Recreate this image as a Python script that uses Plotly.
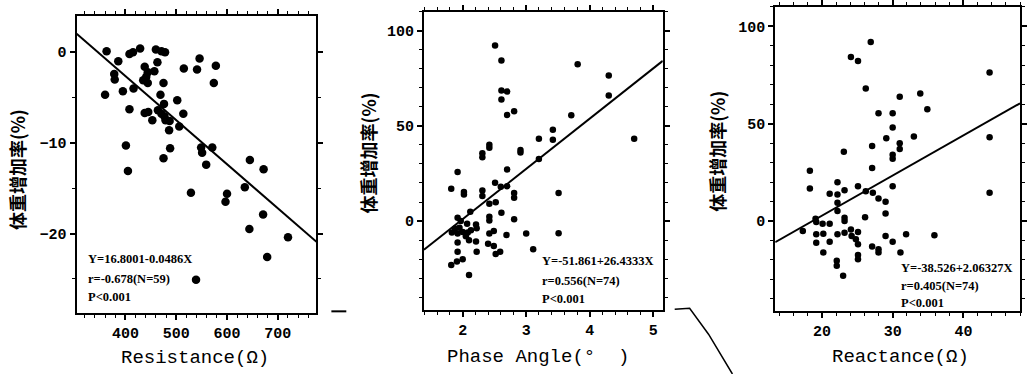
import plotly.graph_objects as go

# ---------------- data ----------------
res_x = [363, 386, 378, 379, 360, 395, 408, 415, 429, 460, 471, 478, 463, 438, 444,
         457, 441, 435, 444, 475, 515, 541, 546, 578, 574, 416, 469, 476, 502, 408,
         438, 445, 453, 464, 471, 477, 479, 487, 514, 486, 506, 401, 488, 475, 405,
         549, 551, 571, 559, 645, 672, 635, 600, 597, 671, 644, 720, 679, 529, 539]
res_y = [0.1, -1.0, -2.4, -3.0, -4.7, -4.3, -0.2, 0.0, 0.4, 0.3, 0.1, 0.0, -1.1, -1.6, -2.2,
         -2.1, -2.7, -3.1, -3.4, -3.4, -1.8, -1.9, -0.7, -1.5, -3.4, -4.0, -4.7, -5.7, -5.3, -6.3,
         -6.7, -6.6, -7.5, -6.4, -6.8, -7.1, -7.5, -7.6, -6.8, -8.6, -8.2, -10.3, -10.6, -11.7, -13.1,
         -10.5, -11.1, -10.5, -12.4, -11.9, -12.9, -14.9, -15.6, -16.5, -17.9, -19.5, -20.4, -22.6, -15.5, -25.1]

pa_x = [2.51, 2.61, 2.61, 2.70, 2.61, 2.81, 2.70, 3.81, 4.30, 4.30, 3.71, 4.70, 3.42, 3.42, 3.20,
        3.20, 2.91, 2.91, 2.42, 2.42, 2.31, 2.31, 2.70, 1.92, 2.51, 2.70, 2.60, 1.82, 2.02, 2.02,
        2.31, 2.31, 2.81, 2.81, 3.51, 2.42, 2.52, 2.12, 1.92, 1.97, 2.42, 2.42, 2.61, 2.81, 2.07,
        2.21, 2.22, 1.83, 1.92, 2.00, 2.08, 2.13, 2.42, 2.49, 2.69, 3.00, 3.51, 1.92, 2.10, 2.21,
        2.40, 2.49, 2.22, 1.92, 2.52, 2.59, 3.11, 1.82, 1.91, 2.00, 2.10, 1.95, 2.05, 1.88]
pa_y = [92.3, 84.5, 68.7, 68.1, 64.0, 57.8, 55.8, 82.5, 76.5, 66.0, 55.7, 43.3, 48.0, 42.8, 43.3,
        32.6, 37.3, 36.0, 40.1, 38.5, 35.7, 33.5, 27.1, 25.8, 20.1, 18.3, 18.0, 17.0, 15.3, 14.0,
        16.0, 13.2, 14.8, 12.2, 14.8, 9.1, 9.9, 4.9, 1.7, 0.0, 2.3, 0.3, 4.3, 0.9, -1.4,
        -1.8, -3.8, -6.1, -6.6, -5.8, -6.1, -4.9, -6.6, -5.2, -7.3, -6.6, -6.5, -11.3, -10.1, -10.8,
        -11.9, -13.1, -16.2, -16.2, -17.4, -16.2, -14.8, -23.2, -21.3, -20.1, -28.4, -3.5, -8.0, -4.0]

xc_x = [26.9, 24.1, 25.1, 26.2, 31.0, 33.9, 34.9, 28.0, 30.0, 30.0, 33.0, 29.1, 31.0, 31.0, 30.0,
        30.0, 27.1, 27.1, 23.1, 43.7, 43.7, 43.7, 18.3, 18.3, 22.2, 21.1, 22.2, 23.2, 25.1, 26.2,
        27.2, 28.0, 29.0, 30.0, 29.0, 22.2, 22.2, 26.1, 23.2, 23.2, 19.1, 19.2, 20.1, 21.1, 17.3,
        19.2, 20.2, 22.2, 23.2, 24.1, 24.2, 25.1, 24.8, 21.1, 19.2, 20.2, 25.1, 27.1, 28.0, 28.0,
        29.0, 30.0, 31.1, 31.9, 25.1, 25.1, 22.1, 22.1, 23.0, 35.9]
xc_y = [92.0, 84.3, 82.3, 68.1, 63.9, 65.6, 57.4, 55.4, 55.4, 48.1, 43.5, 42.6, 40.0, 37.0, 34.1,
        32.0, 38.5, 27.3, 35.6, 76.3, 43.1, 14.5, 25.9, 16.7, 19.9, 14.0, 13.7, 15.8, 17.9, 15.3,
        14.5, 11.6, 9.9, 17.9, 3.9, 9.4, 5.1, 2.0, 1.7, 0.0, 1.2, -0.5, -1.4, -1.4, -5.1,
        -6.8, -6.5, -6.8, -6.0, -4.3, -7.7, -5.6, -9.4, -10.7, -11.1, -16.2, -11.9, -13.1, -14.5, -16.2,
        -7.7, -10.6, -16.2, -6.8, -17.4, -19.6, -20.4, -23.0, -28.1, -7.3]

# regression coefficients printed in the panels
fits = [(16.8001, -0.0486), (-51.861, 26.4333), (-38.526, 2.06327)]
stats = [["Y=16.8001-0.0486X", "r=-0.678(N=59)", "P<0.001"],
         ["Y=-51.861+26.4333X", "r=0.556(N=74)", "P<0.001"],
         ["Y=-38.526+2.06327X", "r=0.405(N=74)", "P<0.001"]]
x_titles = ["Resistance(Ω)", "Phase Angle(°  )", "Reactance(Ω)"]
y_title = "体重增加率(%)"

# ---------------- layout geometry (pixels) ----------------
W, H = 1027, 374
def fx(p): return p / W
def fy(p): return 1 - p / H

boxes = [(77, 318, 14, 313), (426, 666, 10, 310), (779, 1025, 5, 311)]
xranges = [[304, 776], [1.39, 5.15], [13.4, 48.0]]
yranges = [[-28.8, 4.0], [-47, 110], [-46.4, 110]]
xd = [100, 1, 10]; xm = [20, 0.2, 2]
yd = [10, 50, 50]; ym = [5, 10, 10]
msize = [8.5, 6.5, 6.5]
stat_pos = [(86, [258, 278, 297]), (543, [260, 280, 299]), (903, [267, 286, 303])]
ytitle_pos = [(17, 168), (370, 152), (721, 150)]
xtitle_pos = [(196, 358), (541, 357), (905, 357)]

datasets = [(res_x, res_y), (pa_x, pa_y), (xc_x, xc_y)]

fig = go.Figure()
layout = dict(width=W, height=H, autosize=False, margin=dict(l=0, r=0, t=0, b=0),
              plot_bgcolor="white", paper_bgcolor="white", showlegend=False)

tickfont = dict(family="Liberation Mono", size=15, color="black", weight="bold")
annotations = []
for i, ((xs, ys), box) in enumerate(zip(datasets, boxes)):
    n = "" if i == 0 else str(i + 1)
    k = str(i + 4)
    xa, ya = "x" + n, "y" + n
    xo, yo = "x" + k, "y" + k
    fig.add_trace(go.Scatter(x=xs, y=ys, mode="markers", xaxis=xa, yaxis=ya,
                             marker=dict(color="black", size=msize[i]), cliponaxis=True))
    # regression line drawn on the overlaid (top/right) axes, which share the same ranges
    a, b = fits[i]
    lx = xranges[i]
    fig.add_trace(go.Scatter(x=lx, y=[a + b * v for v in lx], mode="lines", xaxis=xo, yaxis=yo,
                             line=dict(color="black", width=2)))
    common = dict(showline=True, linecolor="black", linewidth=2, mirror="allticks",
                  ticks="outside", ticklen=5, tickwidth=1.5, tickcolor="black",
                  showgrid=False, zeroline=False, tickfont=tickfont, fixedrange=True)
    xminor = dict(ticks="outside", ticklen=3, tickwidth=1, dtick=xm[i], tick0=0,
                  tickcolor="black", showgrid=False)
    yminor = dict(ticks="outside", ticklen=3, tickwidth=1, dtick=ym[i], tick0=0,
                  tickcolor="black", showgrid=False)
    xdom = [fx(box[0]), fx(box[1])]
    ydom = [fy(box[3]), fy(box[2])]
    layout["xaxis" + n] = dict(common, domain=xdom, range=xranges[i], anchor=ya,
                               dtick=xd[i], tick0=0, minor=xminor)
    layout["yaxis" + n] = dict(common, domain=ydom, range=yranges[i], anchor=xa,
                               dtick=yd[i], tick0=0, minor=yminor)
    # tick marks on the top and right edges of the frame
    layout["xaxis" + k] = dict(common, overlaying=xa, side="top", anchor=ya, range=xranges[i],
                               dtick=xd[i], tick0=0, minor=xminor, showticklabels=False,
                               mirror=False)
    layout["yaxis" + k] = dict(common, overlaying=ya, side="right", anchor=xa, range=yranges[i],
                               dtick=yd[i], tick0=0, minor=yminor, showticklabels=False,
                               mirror=False)
    sx, sys_ = stat_pos[i]
    for txt, yy in zip(stats[i], sys_):
        annotations.append(dict(x=fx(sx), y=fy(yy), xref="paper", yref="paper", text=txt,
                                showarrow=False, xanchor="left", yanchor="middle",
                                font=dict(family="Liberation Serif", size=12.5, color="black",
                                          weight="bold")))
    tx, ty = ytitle_pos[i]
    annotations.append(dict(x=fx(tx), y=fy(ty), xref="paper", yref="paper", text=y_title,
                            showarrow=False, textangle=-90, xanchor="center", yanchor="middle",
                            font=dict(family="Noto Sans CJK SC", size=18, color="black",
                                      weight="bold")))
    tx, ty = xtitle_pos[i]
    annotations.append(dict(x=fx(tx), y=fy(ty), xref="paper", yref="paper", text=x_titles[i],
                            showarrow=False, xanchor="center", yanchor="middle",
                            font=dict(family="Liberation Mono", size=19, color="black")))

layout["annotations"] = annotations
# scan artefacts visible in the reference
layout["shapes"] = [
    dict(type="line", xref="paper", yref="paper", x0=fx(333), x1=fx(348), y0=fy(311), y1=fy(311),
         line=dict(color="black", width=2)),
    dict(type="path", xref="paper", yref="paper",
         path=f"M {fx(678)},{fy(309)} L {fx(693)},{fy(308)} L {fx(712)},{fy(334)} L {fx(736)},{fy(374)}",
         line=dict(color="black", width=1.5)),
]
fig.update_layout(**layout)
fig.write_html("out.html")
